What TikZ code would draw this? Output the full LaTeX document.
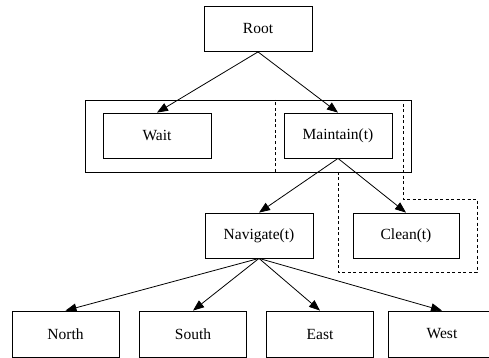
\documentclass[tikz,border=0pt]{standalone}
\usepackage{fontspec}
\setmainfont{Liberation Serif}
\usetikzlibrary{arrows.meta}
\begin{document}
\begin{tikzpicture}[x=1pt,y=-1pt,
  task/.style={draw, line width=0.8pt, rectangle, minimum width=108pt, minimum height=45pt, inner sep=0pt, font=\fontsize{15.5}{17}\selectfont},
  edge/.style={line width=0.8pt, -{Triangle[length=11pt,width=8.5pt]}},
  group/.style={draw, line width=0.8pt},
  option/.style={draw, line width=0.8pt, dash pattern=on 3pt off 2.5pt}]
\useasboundingbox (0,0) rectangle (489,358);

% task tree
\node[task] (root) at (258,29) {Root};
\node[task] (wait) at (157,135.5) {Wait};
\node[task] (maintain) at (338,135.5) {Maintain(t)};
\node[task] (navigate) at (259,235.5) {Navigate(t)};
\node[task, minimum width=106pt] (clean) at (406,235.5) {Clean(t)};
\node[task, minimum width=107pt, minimum height=46pt] (north) at (65.5,334) {North};
\node[task, minimum width=107pt, minimum height=46pt] (south) at (193,334) {South};
\node[task, minimum width=107pt, minimum height=46pt] (east) at (320,334) {East};
\node[task, minimum width=107pt, minimum height=46pt] (west) at (442,334) {West};

% grouping frames
\draw[group] (85,100) rectangle (411,172);
\draw[option] (275,100) -- (403,100) -- (403,199) -- (477,199) -- (477,272)
  -- (338,272) -- (338,172) -- (275,172) -- cycle;

% edges
\draw[edge] (root.south) -- (wait.north);
\draw[edge] (root.south) -- (maintain.north);
\draw[edge] (maintain.south) -- (navigate.north);
\draw[edge] (maintain.south) -- (clean.north);
\draw[edge] (navigate.south) -- (north.north);
\draw[edge] (navigate.south) -- (south.north);
\draw[edge] (navigate.south) -- (east.north);
\draw[edge] (navigate.south) -- (west.north);
\end{tikzpicture}
\end{document}
